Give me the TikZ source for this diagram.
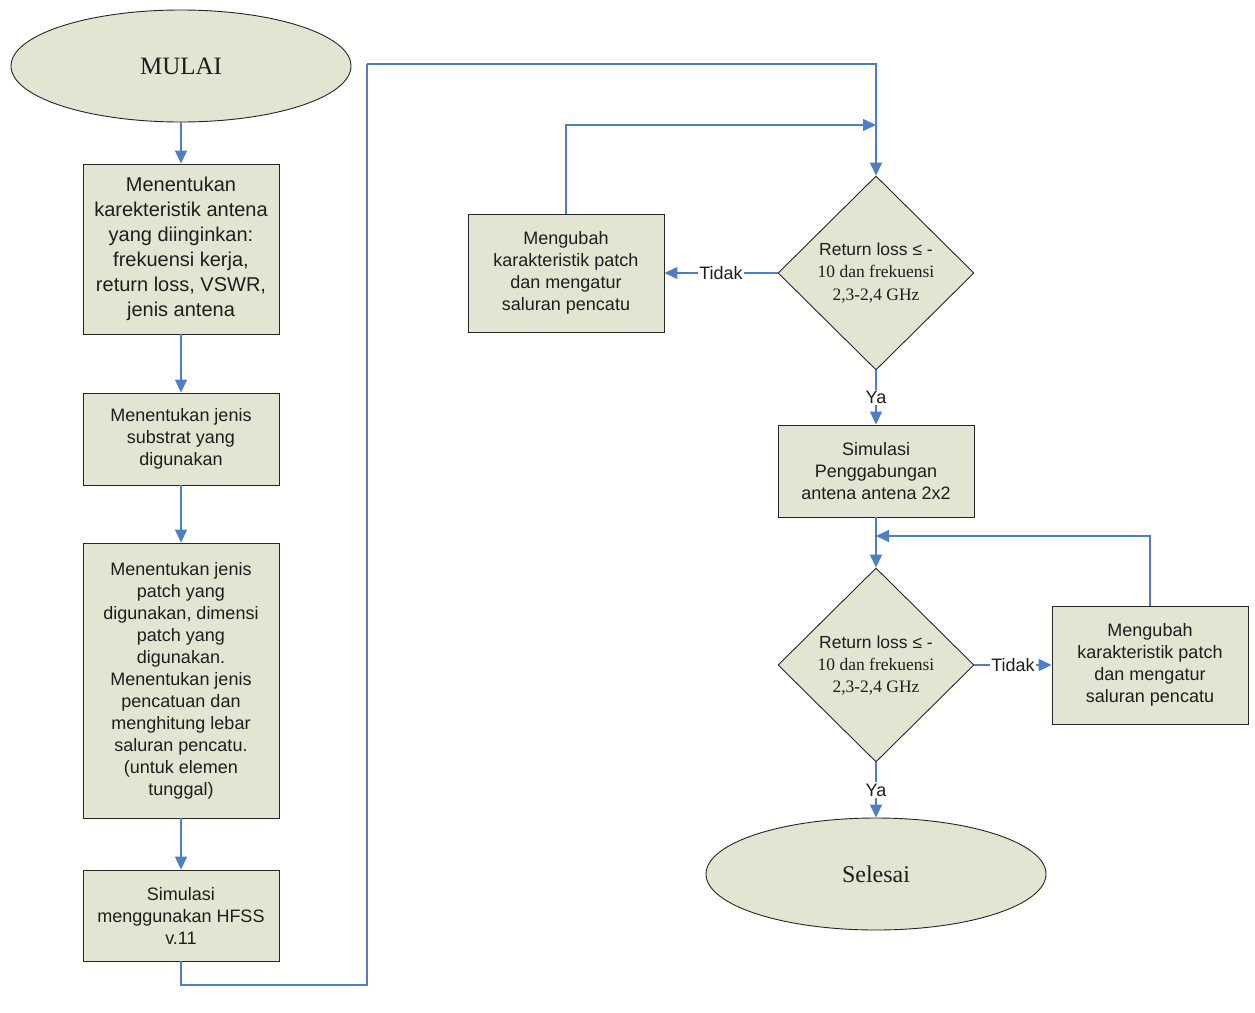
\documentclass[tikz,border=0pt]{standalone}
\usepackage{fontspec}
\setmainfont{Liberation Serif}
\setsansfont{Liberation Sans}
\usetikzlibrary{shapes.geometric,arrows.meta}
\definecolor{boxfill}{HTML}{E2E5D2}
\definecolor{flowblue}{HTML}{4F7EC4}
\definecolor{txt}{HTML}{1E1E1E}
\tikzset{
  proc/.style={draw=black!85, line width=0.9pt, fill=boxfill, rectangle, inner sep=0pt, align=center, text=txt, font=\sffamily\fontsize{18}{22}\selectfont},
  term/.style={draw=black!85, line width=0.9pt, fill=boxfill, ellipse, inner sep=0pt, text=txt, minimum width=340pt, minimum height=112pt},
  dec/.style={draw=black!85, line width=0.9pt, fill=boxfill, diamond, inner sep=0pt, align=center, text=txt, minimum width=196pt, minimum height=194pt, font=\fontsize{17.5}{22}\selectfont},
  flow/.style={draw=flowblue, line width=1.3pt, -{Triangle[length=13pt,width=12pt]}},
  flowline/.style={draw=flowblue, line width=1.3pt},
  lbl/.style={fill=white, inner sep=1.5pt, text=txt, font=\sffamily\fontsize{18}{20}\selectfont}
}
\begin{document}
\begin{tikzpicture}[x=1pt,y=-1pt]
\useasboundingbox (0,0) rectangle (1255,1012);
\fill[white] (0,0) rectangle (1255,1012);

\node[term, font=\fontsize{25}{28}\selectfont] (start) at (181,66) {MULAI};
\node[proc, minimum width=196pt, minimum height=170pt, font=\sffamily\fontsize{20}{25}\selectfont] (b1) at (181,249)
  {Menentukan\\karekteristik antena\\yang diinginkan:\\frekuensi kerja,\\return loss, VSWR,\\jenis antena};
\node[proc, minimum width=196pt, minimum height=92pt] (b2) at (181,439)
  {Menentukan jenis\\substrat yang\\digunakan};
\node[proc, minimum width=196pt, minimum height=275pt] (b3) at (181,680.5)
  {Menentukan jenis\\patch yang\\digunakan, dimensi\\patch yang\\digunakan.\\Menentukan jenis\\pencatuan dan\\menghitung lebar\\saluran pencatu.\\(untuk elemen\\tunggal)};
\node[proc, minimum width=196pt, minimum height=91pt] (b4) at (181,915.5)
  {Simulasi\\menggunakan HFSS\\v.11};

\node[dec] (d1) at (876,273) {{\sffamily Return loss ≤ -}\\10 dan frekuensi\\2,3-2,4 GHz};
\node[proc, minimum width=196pt, minimum height=118pt] (m1) at (566,273)
  {Mengubah\\karakteristik patch\\dan mengatur\\saluran pencatu};
\node[proc, minimum width=196pt, minimum height=92pt] (s2) at (876,471)
  {Simulasi\\Penggabungan\\antena antena 2x2};
\node[dec] (d2) at (876,665) {{\sffamily Return loss ≤ -}\\10 dan frekuensi\\2,3-2,4 GHz};
\node[proc, minimum width=196pt, minimum height=118pt] (m2) at (1150,665)
  {Mengubah\\karakteristik patch\\dan mengatur\\saluran pencatu};
\node[term, font=\fontsize{24}{28}\selectfont] (end) at (876,874) {Selesai};

\coordinate (c1) at (367,985);
\coordinate (c2) at (367,64);
\coordinate (j1) at (876,125);
\coordinate (j2) at (876,536);

\draw[flow] (start) -- (b1);
\draw[flow] (b1) -- (b2);
\draw[flow] (b2) -- (b3);
\draw[flow] (b3) -- (b4);
\draw[flowline] (b4.south) |- (c1) -- (c2);
\draw[flow] (c2) -| (d1.north);
\draw[flow] (d1.west) -- node[lbl] {Tidak} (m1.east);
\draw[flow] (m1.north) |- (j1);
\draw[flow] (d1.south) -- node[lbl] {Ya} (s2.north);
\draw[flow] (s2) -- (d2.north);
\draw[flow] (d2.east) -- node[lbl] {Tidak} (m2.west);
\draw[flow] (m2.north) |- (j2);
\draw[flow] (d2.south) -- node[lbl] {Ya} (end.north);
\end{tikzpicture}
\end{document}
